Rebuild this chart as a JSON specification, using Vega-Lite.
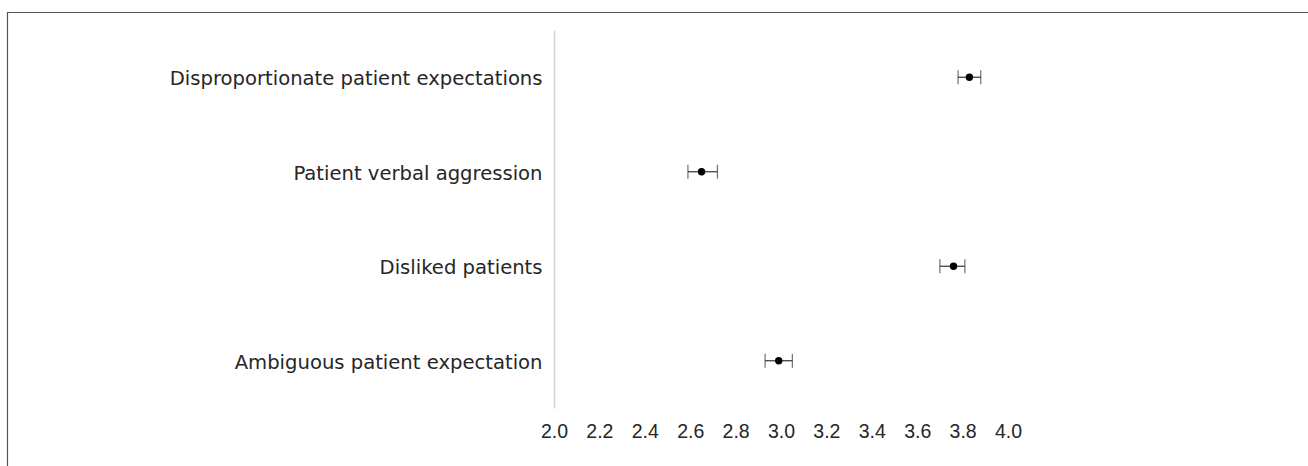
{
  "$schema": "https://vega.github.io/schema/vega-lite/v6.json",
  "autosize": {"type": "none"},
  "padding": {"left": 554, "top": 30, "right": 300, "bottom": 58},
  "width": 454,
  "height": 378,
  "background": "white",
  "config": {"view": {"stroke": null}},
  "data": {
    "values": [
      {"item": "Disproportionate patient expectations", "mean": 3.83, "low": 3.78, "high": 3.88},
      {"item": "Patient verbal aggression", "mean": 2.65, "low": 2.59, "high": 2.72},
      {"item": "Disliked patients", "mean": 3.76, "low": 3.70, "high": 3.81},
      {"item": "Ambiguous patient expectation", "mean": 2.99, "low": 2.93, "high": 3.05}
    ]
  },
  "resolve": {"scale": {"y": "independent"}},
  "layer": [
    {
      "layer": [
        {
          "mark": {"type": "rule", "color": "#333333", "strokeWidth": 1.2},
          "encoding": {
            "y": {
              "field": "item", "type": "nominal", "sort": null, "title": null,
              "scale": {"type": "band", "paddingInner": 0, "paddingOuter": 0},
              "axis": {
                "domain": true, "domainColor": "#d4d4d4", "domainWidth": 1.5,
                "ticks": false, "grid": false, "labelPadding": 12,
                "labelFont": "DejaVu Sans", "labelFontSize": 19.6, "labelColor": "#262626",
                "labelLimit": 600, "labelBaseline": "middle", "labelOffset": 2
              }
            },
            "x": {
              "field": "low", "type": "quantitative", "title": null,
              "scale": {"domain": [2, 4], "nice": false, "zero": false},
              "axis": {
                "domain": false, "ticks": false, "grid": false, "labelFlush": false,
                "values": [2.0, 2.2, 2.4, 2.6, 2.8, 3.0, 3.2, 3.4, 3.6, 3.8, 4.0],
                "format": ".1f", "labelPadding": 14,
                "labelFont": "Liberation Sans", "labelFontSize": 19.5, "labelColor": "#262626"
              }
            },
            "x2": {"field": "high"}
          }
        },
        {
          "mark": {"type": "tick", "color": "#333333", "thickness": 1.2, "size": 14},
          "encoding": {
            "y": {"field": "item", "type": "nominal", "sort": null},
            "x": {"field": "low", "type": "quantitative"}
          }
        },
        {
          "mark": {"type": "tick", "color": "#333333", "thickness": 1.2, "size": 14},
          "encoding": {
            "y": {"field": "item", "type": "nominal", "sort": null},
            "x": {"field": "high", "type": "quantitative"}
          }
        },
        {
          "mark": {"type": "point", "filled": true, "color": "#000000", "size": 55, "opacity": 1},
          "encoding": {
            "y": {"field": "item", "type": "nominal", "sort": null},
            "x": {"field": "mean", "type": "quantitative"}
          }
        }
      ]
    },
    {
      "data": {"values": [{"frame": "border"}]},
      "mark": {"type": "rect", "fill": null, "fillOpacity": 0, "stroke": "#555555", "strokeWidth": 1.2, "clip": false},
      "encoding": {
        "x": {"datum": -0.4075, "type": "quantitative"},
        "x2": {"datum": 10},
        "y": {"datum": 1.0463, "type": "quantitative", "scale": {"domain": [0, 1], "nice": false, "zero": false}, "axis": null},
        "y2": {"datum": -1}
      }
    }
  ]
}
